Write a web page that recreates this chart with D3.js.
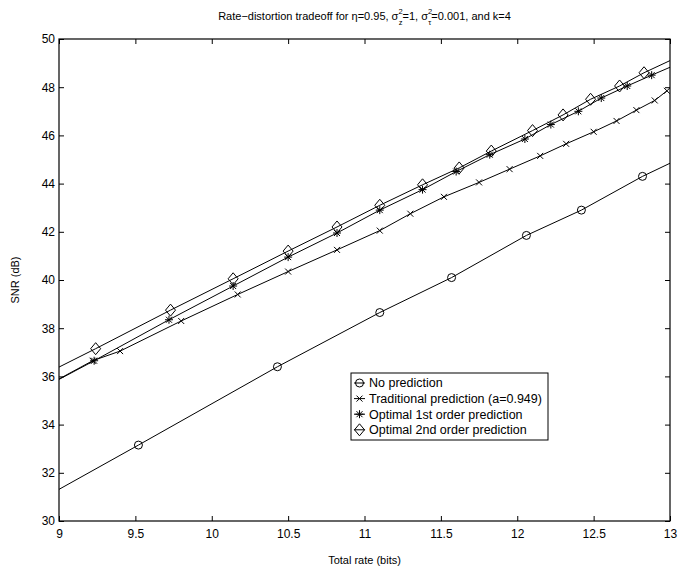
<!DOCTYPE html>
<html>
<head>
<meta charset="utf-8">
<script src="https://cdn.jsdelivr.net/npm/d3@7"></script>
<style>
  body { margin: 0; background: #fff; }
  svg text { font-family: "Liberation Sans", Arial, sans-serif; fill: #000; }
</style>
</head>
<body>
<svg id="chart"></svg>
<script>
// data (points outside 9..13 get clipped like in matlab)
var xTicks = [9, 9.5, 10, 10.5, 11, 11.5, 12, 12.5, 13];
var yTicks = [30, 32, 34, 36, 38, 40, 42, 44, 46, 48, 50];

var noPredX = [8.6, 9.52, 10.43, 11.1, 11.57, 12.06, 12.42, 12.82, 13.2];
var noPredY = [29.9, 33.15, 36.4, 38.65, 40.1, 41.85, 42.9, 44.3, 45.45];

var tradX = [8.9, 9.22, 9.4, 9.8, 10.17, 10.5, 10.82, 11.1, 11.3, 11.52, 11.75, 11.95, 12.15, 12.32, 12.5, 12.65, 12.78, 12.9, 12.98];
var tradY = [35.55, 36.65, 37.05, 38.3, 39.4, 40.35, 41.25, 42.05, 42.75, 43.45, 44.05, 44.6, 45.15, 45.65, 46.15, 46.6, 47.05, 47.45, 47.85];

var opt1X = [8.8, 9.23, 9.72, 10.14, 10.5, 10.82, 11.1, 11.38, 11.6, 11.82, 12.05, 12.22, 12.4, 12.55, 12.72, 12.88, 13.1];
var opt1Y = [35.2, 36.65, 38.35, 39.75, 40.95, 41.95, 42.9, 43.75, 44.5, 45.2, 45.85, 46.45, 47.0, 47.55, 48.05, 48.5, 49.1];

var opt2X = [8.8, 9.24, 9.73, 10.14, 10.5, 10.82, 11.1, 11.38, 11.62, 11.83, 12.1, 12.3, 12.48, 12.67, 12.83, 13.1];
var opt2Y = [35.75, 37.15, 38.75, 40.05, 41.2, 42.2, 43.1, 43.95, 44.65, 45.35, 46.2, 46.85, 47.5, 48.05, 48.6, 49.4];

var seriesNames = ["No prediction", "Traditional prediction (a=0.949)", "Optimal 1st order prediction", "Optimal 2nd order prediction"];
var seriesMarks = ["circle", "x", "star", "diamond"];

var width = 678, height = 571;
var margin = {top: 39, right: 8, bottom: 50, left: 59};

var svg = d3.select("#chart").attr("width", width).attr("height", height);

var x = d3.scaleLinear().domain([9, 13]).range([margin.left, width - margin.right]);
var y = d3.scaleLinear().domain([30, 50]).range([height - margin.bottom, margin.top]);

svg.append("defs").append("clipPath").attr("id", "plotclip")
    .append("rect")
    .attr("x", x(9)).attr("y", y(50))
    .attr("width", x(13) - x(9)).attr("height", y(30) - y(50));
svg.select("defs").append("clipPath").attr("id", "legclip")
    .append("rect").attr("x", 351).attr("y", 373).attr("width", 197).attr("height", 67);

// ticks inside the box, matlab style
var tk = 5;
svg.append("g")
    .attr("transform", "translate(0," + y(30) + ")")
    .call(d3.axisBottom(x).tickValues(xTicks).tickSize(-tk).tickPadding(8).tickFormat(d3.format("")))
    .call(function(g) { g.select(".domain").remove(); })
    .selectAll("text").style("font-size", "12px");
svg.append("g")
    .attr("transform", "translate(0," + y(50) + ")")
    .call(d3.axisTop(x).tickValues(xTicks).tickSize(-tk).tickFormat(""))
    .call(function(g) { g.select(".domain").remove(); });
svg.append("g")
    .attr("transform", "translate(" + x(9) + ",0)")
    .call(d3.axisLeft(y).tickValues(yTicks).tickSize(-tk).tickPadding(4))
    .call(function(g) { g.select(".domain").remove(); })
    .selectAll("text").style("font-size", "12px");
svg.append("g")
    .attr("transform", "translate(" + x(13) + ",0)")
    .call(d3.axisRight(y).tickValues(yTicks).tickSize(-tk).tickFormat(""))
    .call(function(g) { g.select(".domain").remove(); });

svg.append("rect")
    .attr("x", x(9)).attr("y", y(50))
    .attr("width", x(13) - x(9)).attr("height", y(30) - y(50))
    .attr("fill", "none").attr("stroke", "#000").attr("stroke-width", 1.2);

// marker shapes
function marker(g, type, cx, cy) {
    if (type === "circle") {
        g.append("circle").attr("cx", cx).attr("cy", cy).attr("r", 4)
            .attr("fill", "none").attr("stroke", "#000");
    } else if (type === "x") {
        g.append("path").attr("d", "M" + (cx-3) + "," + (cy-3) + "L" + (cx+3) + "," + (cy+3) +
            "M" + (cx-3) + "," + (cy+3) + "L" + (cx+3) + "," + (cy-3))
            .attr("stroke", "#000").attr("fill", "none");
    } else if (type === "star") {
        g.append("path").attr("d", "M" + (cx-4) + "," + cy + "L" + (cx+4) + "," + cy +
            "M" + cx + "," + (cy-4) + "L" + cx + "," + (cy+4) +
            "M" + (cx-3) + "," + (cy-3) + "L" + (cx+3) + "," + (cy+3) +
            "M" + (cx-3) + "," + (cy+3) + "L" + (cx+3) + "," + (cy-3))
            .attr("stroke", "#000").attr("fill", "none");
    } else {
        g.append("path").attr("d", "M" + cx + "," + (cy-6) + "L" + (cx+5) + "," + cy +
            "L" + cx + "," + (cy+6) + "L" + (cx-5) + "," + cy + "Z")
            .attr("stroke", "#000").attr("fill", "none");
    }
}

var allSeries = [[noPredX, noPredY], [tradX, tradY], [opt1X, opt1Y], [opt2X, opt2Y]];
var line = d3.line().x(function(d) { return x(d[0]); }).y(function(d) { return y(d[1]); });

var plot = svg.append("g").attr("clip-path", "url(#plotclip)");
allSeries.forEach(function(s, i) {
    var pts = s[0].map(function(v, j) { return [v, s[1][j]]; });
    plot.append("path").datum(pts).attr("d", line)
        .attr("fill", "none").attr("stroke", "#000").attr("stroke-width", 1);
    pts.forEach(function(p) { marker(plot, seriesMarks[i], x(p[0]), y(p[1])); });
});

// legend
var lg = svg.append("g");
var lgX = 351, lgY = 373, lgW = 197, lgH = 67;
lg.append("rect").attr("x", lgX).attr("y", lgY).attr("width", lgW).attr("height", lgH)
    .attr("fill", "#fff").attr("stroke", "#000");
var lgIn = lg.append("g").attr("clip-path", "url(#legclip)");
seriesNames.forEach(function(name, i) {
    var ry = lgY + 10 + i * 15.6;
    lgIn.append("line").attr("x1", lgX + 3).attr("x2", lgX + 14).attr("y1", ry).attr("y2", ry)
        .attr("stroke", "#000");
    marker(lgIn, seriesMarks[i], lgX + 8.5, ry);
    lgIn.append("text").attr("x", lgX + 18).attr("y", ry).attr("dy", "0.35em")
        .style("font-size", "12.5px").text(name);
});

// title, with stacked sub/superscripts
var title = svg.append("text").attr("x", (x(9) + x(13)) / 2).attr("y", 20)
    .attr("text-anchor", "middle").style("font-size", "11px");
title.append("tspan").text("Rate\u2212distortion tradeoff for \u03b7=0.95, \u03c3");
title.append("tspan").attr("dy", -6).style("font-size", "7.5px").text("2");
title.append("tspan").attr("dx", -3.8).attr("dy", 11).style("font-size", "7.5px").text("z");
title.append("tspan").attr("dy", -5).text("=1, \u03c3");
title.append("tspan").attr("dy", -6).style("font-size", "7.5px").text("2");
title.append("tspan").attr("dx", -3.8).attr("dy", 11).style("font-size", "7.5px").text("\u03c4");
title.append("tspan").attr("dy", -5).text("=0.001, and k=4");

svg.append("text").attr("x", (x(9) + x(13)) / 2).attr("y", 564)
    .attr("text-anchor", "middle").style("font-size", "11px").text("Total rate (bits)");
svg.append("text").attr("transform", "translate(19," + y(40) + ") rotate(-90)")
    .attr("text-anchor", "middle").style("font-size", "11px").text("SNR (dB)");
</script>
</body>
</html>
